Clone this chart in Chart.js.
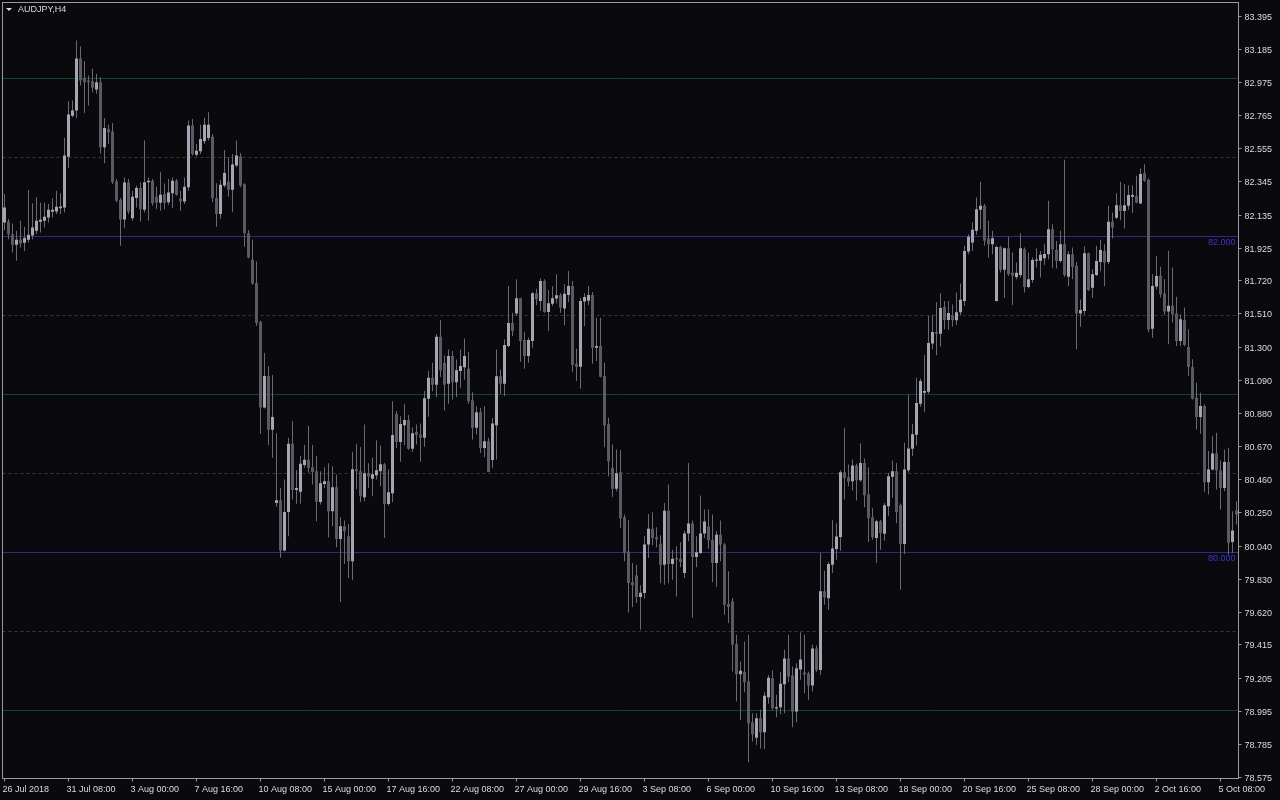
<!DOCTYPE html>
<html>
<head>
<meta charset="utf-8">
<title>AUDJPY,H4</title>
<script src="https://cdn.jsdelivr.net/npm/chart.js@4.4.1/dist/chart.umd.min.js"></script>
<style>
  html, body { margin: 0; padding: 0; background: #0a0a0e; }
  #wrap { position: relative; width: 1280px; height: 800px; }
</style>
</head>
<body>
<div id="wrap"><canvas id="chart" width="1280" height="800"></canvas></div>
<script>
const SYMBOL = "AUDJPY,H4";

// one label every 16 bars (H4)
const timeLabels = [
  "26 Jul 2018", "31 Jul 08:00", "3 Aug 00:00", "7 Aug 16:00", "10 Aug 08:00",
  "15 Aug 00:00", "17 Aug 16:00", "22 Aug 08:00", "27 Aug 00:00", "29 Aug 16:00",
  "3 Sep 08:00", "6 Sep 00:00", "10 Sep 16:00", "13 Sep 08:00", "18 Sep 00:00",
  "20 Sep 16:00", "25 Sep 08:00", "28 Sep 00:00", "2 Oct 16:00", "5 Oct 08:00",
];

const priceTicks = [
  83.395, 83.185, 82.975, 82.765, 82.555, 82.345, 82.135, 81.925, 81.720, 81.510,
  81.300, 81.090, 80.880, 80.670, 80.460, 80.250, 80.040, 79.830, 79.620, 79.415,
  79.205, 78.995, 78.785, 78.575,
];

const greenLevels = [83, 81, 79];
const blueLevels = [82, 80];
const dashedLevels = [82.5, 81.5, 80.5, 79.5];

const open = [
  82.089, 82.095, 82.015, 81.948, 81.981, 81.960, 81.979, 82.007, 82.036, 82.093,
  82.100, 82.121, 82.157, 82.159, 82.178, 82.184, 82.505, 82.765, 82.797, 83.127,
  83.004, 82.987, 82.983, 82.930, 82.976, 82.565, 82.679, 82.664, 82.349, 82.233,
  82.108, 82.341, 82.115, 82.243, 82.307, 82.169, 82.343, 82.353, 82.252, 82.214,
  82.269, 82.216, 82.273, 82.353, 82.239, 82.222, 82.311, 82.702, 82.518, 82.539,
  82.603, 82.624, 82.632, 82.244, 82.142, 82.322, 82.347, 82.296, 82.449, 82.506,
  82.330, 82.020, 81.853, 81.705, 81.460, 80.917, 81.117, 80.777, 80.314, 80.331,
  80.012, 80.257, 80.688, 80.395, 80.384, 80.553, 80.587, 80.541, 80.515, 80.320,
  80.434, 80.451, 80.261, 80.413, 80.086, 80.166, 80.103, 79.944, 80.527, 80.515,
  80.350, 80.502, 80.466, 80.489, 80.515, 80.559, 80.307, 80.375, 80.876, 80.700,
  80.806, 80.838, 80.656, 80.762, 80.747, 80.726, 80.973, 81.106, 81.061, 81.366,
  81.199, 81.068, 81.243, 81.078, 81.148, 81.173, 81.163, 80.964, 80.789, 80.888,
  80.662, 80.704, 80.586, 80.806, 81.116, 81.068, 81.307, 81.452, 81.512, 81.609,
  81.345, 81.243, 81.339, 81.641, 81.592, 81.719, 81.522, 81.575, 81.607, 81.628,
  81.544, 81.630, 81.687, 81.195, 81.176, 81.588, 81.594, 81.630, 81.296, 81.307,
  81.117, 80.812, 80.536, 80.403, 80.508, 80.223, 80.007, 79.811, 79.855, 79.718,
  79.743, 80.050, 80.151, 80.096, 80.056, 79.923, 80.265, 79.927, 79.965, 79.961,
  79.870, 80.120, 80.183, 79.972, 79.997, 80.120, 80.164, 80.081, 79.934, 80.113,
  80.050, 79.674, 79.691, 79.420, 79.230, 79.246, 79.183, 78.925, 78.828, 78.951,
  78.862, 79.084, 79.204, 79.012, 79.020, 79.166, 79.329, 79.221, 78.993, 79.259,
  79.240, 79.234, 79.158, 79.392, 79.257, 79.754, 79.711, 79.923, 80.022, 80.098,
  80.508, 80.477, 80.451, 80.551, 80.458, 80.566, 80.367, 80.223, 80.092, 80.198,
  80.118, 80.293, 80.479, 80.515, 80.299, 80.054, 80.521, 80.656, 80.745, 80.942,
  81.011, 81.018, 81.322, 81.396, 81.385, 81.554, 81.472, 81.500, 81.470, 81.520,
  81.592, 81.905, 81.962, 82.036, 82.169, 82.194, 81.987, 81.951, 81.592, 81.934,
  81.789, 81.926, 81.770, 81.744, 81.757, 81.920, 81.681, 81.725, 81.846, 81.846,
  81.863, 81.888, 82.046, 81.915, 81.845, 81.951, 81.746, 81.888, 81.814, 81.512,
  81.528, 81.894, 81.676, 81.757, 81.839, 81.909, 81.839, 82.093, 82.118, 82.198,
  82.162, 82.194, 82.251, 82.257, 82.209, 82.401, 82.359, 81.416, 81.683, 81.751,
  81.639, 81.525, 81.561, 81.512, 81.339, 81.470, 81.301, 81.174, 80.980, 80.857,
  80.927, 80.445, 80.526, 80.627, 80.519, 80.409, 80.572, 80.067, 80.266,
];

const high = [
  82.269, 82.110, 82.083, 82.036, 82.100, 82.062, 82.294, 82.210, 82.248, 82.214,
  82.214, 82.205, 82.241, 82.290, 82.273, 82.624, 82.856, 82.860, 83.241, 83.203,
  83.110, 83.019, 83.061, 83.029, 83.008, 82.750, 82.708, 82.719, 82.364, 82.243,
  82.374, 82.364, 82.290, 82.322, 82.343, 82.607, 82.374, 82.364, 82.315, 82.410,
  82.336, 82.364, 82.374, 82.364, 82.290, 82.374, 82.734, 82.744, 82.586, 82.708,
  82.751, 82.786, 82.649, 82.337, 82.358, 82.548, 82.501, 82.522, 82.607, 82.527,
  82.337, 82.041, 81.979, 81.842, 81.466, 81.263, 81.179, 81.124, 80.754, 80.409,
  80.462, 80.726, 80.832, 80.522, 80.610, 80.680, 80.800, 80.680, 80.610, 80.515,
  80.540, 80.565, 80.546, 80.493, 80.223, 80.202, 80.181, 80.637, 80.688, 80.667,
  80.810, 80.565, 80.599, 80.711, 80.677, 80.567, 80.525, 80.958, 80.895, 80.863,
  80.939, 80.870, 80.793, 80.810, 80.817, 81.022, 81.148, 81.201, 81.381, 81.471,
  81.247, 81.285, 81.275, 81.222, 81.285, 81.355, 81.271, 81.015, 80.926, 80.916,
  80.926, 80.726, 80.852, 81.285, 81.159, 81.349, 81.687, 81.518, 81.729, 81.613,
  81.395, 81.359, 81.649, 81.670, 81.734, 81.729, 81.662, 81.687, 81.761, 81.641,
  81.698, 81.782, 81.719, 81.290, 81.613, 81.641, 81.687, 81.649, 81.486, 81.486,
  81.201, 80.853, 80.684, 80.652, 80.648, 80.240, 80.204, 79.933, 79.923, 79.792,
  80.103, 80.244, 80.255, 80.160, 80.109, 80.314, 80.430, 80.018, 80.039, 80.065,
  80.138, 80.567, 80.202, 80.103, 80.360, 80.272, 80.272, 80.240, 80.134, 80.202,
  80.060, 79.881, 79.712, 79.479, 79.310, 79.437, 79.479, 78.982, 78.982, 79.004,
  79.115, 79.225, 79.253, 79.099, 79.242, 79.384, 79.479, 79.278, 79.299, 79.496,
  79.479, 79.246, 79.416, 79.411, 79.997, 79.885, 79.940, 80.204, 80.185, 80.521,
  80.789, 80.557, 80.589, 80.561, 80.692, 80.595, 80.540, 80.282, 80.208, 80.208,
  80.314, 80.504, 80.582, 80.566, 80.310, 80.694, 80.997, 80.815, 81.106, 81.102,
  81.250, 81.497, 81.504, 81.586, 81.641, 81.592, 81.592, 81.570, 81.645, 81.702,
  81.941, 82.015, 82.089, 82.247, 82.346, 82.205, 82.099, 82.036, 81.941, 81.941,
  81.930, 81.998, 81.899, 81.835, 82.021, 81.930, 81.899, 81.867, 81.926, 81.909,
  81.951, 82.226, 82.078, 81.972, 82.036, 82.486, 81.909, 81.930, 81.839, 81.602,
  81.936, 81.898, 81.793, 81.941, 81.979, 81.951, 82.194, 82.152, 82.274, 82.346,
  82.331, 82.325, 82.325, 82.384, 82.431, 82.458, 82.367, 81.761, 81.877, 81.808,
  81.730, 81.910, 81.804, 81.618, 81.508, 81.550, 81.413, 81.223, 81.075, 81.011,
  80.937, 80.642, 80.737, 80.758, 80.583, 80.652, 80.663, 80.261, 80.325,
];

const low = [
  82.040, 81.983, 81.899, 81.846, 81.931, 81.909, 81.962, 81.983, 82.015, 82.026,
  82.057, 82.089, 82.121, 82.142, 82.142, 82.152, 82.433, 82.755, 82.750, 82.955,
  82.782, 82.829, 82.913, 82.903, 82.526, 82.463, 82.586, 82.332, 82.216, 81.941,
  82.053, 82.142, 82.100, 82.184, 82.095, 82.152, 82.100, 82.195, 82.174, 82.163,
  82.174, 82.201, 82.180, 82.258, 82.163, 82.205, 82.290, 82.512, 82.508, 82.522,
  82.586, 82.607, 82.216, 82.062, 82.110, 82.311, 82.252, 82.153, 82.438, 82.311,
  81.935, 81.863, 81.694, 81.434, 80.752, 80.912, 80.680, 80.600, 80.289, 79.966,
  80.008, 80.103, 80.336, 80.308, 80.308, 80.536, 80.505, 80.431, 80.198, 80.303,
  80.409, 80.096, 80.166, 80.033, 79.686, 79.927, 79.838, 79.824, 80.400, 80.320,
  80.324, 80.409, 80.356, 80.462, 80.419, 80.092, 80.297, 80.320, 80.662, 80.574,
  80.679, 80.650, 80.637, 80.684, 80.574, 80.669, 80.859, 81.021, 80.983, 81.110,
  80.899, 80.941, 80.968, 80.983, 81.042, 81.093, 80.941, 80.715, 80.747, 80.630,
  80.603, 80.508, 80.535, 80.588, 81.004, 80.990, 81.300, 81.370, 81.497, 81.207,
  81.163, 81.201, 81.296, 81.565, 81.529, 81.518, 81.402, 81.560, 81.577, 81.518,
  81.438, 81.586, 81.142, 81.085, 81.036, 81.434, 81.565, 81.195, 81.212, 81.108,
  80.667, 80.483, 80.352, 80.388, 80.155, 79.944, 79.621, 79.655, 79.680, 79.511,
  79.707, 79.965, 80.046, 80.033, 79.807, 79.796, 79.807, 79.828, 79.722, 79.906,
  79.838, 80.071, 79.589, 79.906, 79.991, 80.092, 80.024, 79.813, 79.781, 79.944,
  79.606, 79.553, 79.247, 79.057, 78.940, 79.115, 78.672, 78.803, 78.782, 78.760,
  78.756, 79.042, 79.004, 78.957, 78.976, 78.982, 79.179, 78.894, 78.925, 79.194,
  79.109, 79.067, 79.120, 79.246, 79.225, 79.669, 79.637, 79.870, 79.954, 80.011,
  80.335, 80.420, 80.392, 80.329, 80.447, 80.287, 80.067, 80.080, 79.934, 80.018,
  80.075, 80.230, 80.346, 80.187, 79.765, 79.991, 80.504, 80.610, 80.677, 80.923,
  80.891, 81.005, 81.286, 81.248, 81.303, 81.413, 81.409, 81.430, 81.440, 81.500,
  81.560, 81.888, 81.909, 82.011, 82.046, 81.941, 81.867, 81.888, 81.588, 81.772,
  81.613, 81.751, 81.567, 81.730, 81.740, 81.645, 81.672, 81.708, 81.803, 81.740,
  81.820, 81.856, 81.799, 81.797, 81.835, 81.746, 81.687, 81.729, 81.286, 81.429,
  81.507, 81.655, 81.613, 81.750, 81.782, 81.687, 81.824, 81.987, 82.110, 82.105,
  82.050, 82.169, 82.148, 82.211, 82.205, 82.346, 81.395, 81.359, 81.666, 81.614,
  81.504, 81.318, 81.455, 81.307, 81.307, 81.305, 81.117, 80.969, 80.779, 80.752,
  80.384, 80.367, 80.519, 80.399, 80.272, 80.388, 79.987, 79.997, 80.177,
];

const close = [
  82.184, 82.015, 81.948, 81.979, 81.956, 81.990, 82.011, 82.057, 82.100, 82.106,
  82.125, 82.169, 82.169, 82.188, 82.190, 82.512, 82.772, 82.797, 83.127, 82.987,
  82.976, 82.976, 82.941, 82.976, 82.565, 82.687, 82.660, 82.343, 82.226, 82.108,
  82.341, 82.159, 82.252, 82.307, 82.172, 82.343, 82.353, 82.210, 82.214, 82.265,
  82.214, 82.279, 82.353, 82.265, 82.222, 82.315, 82.702, 82.522, 82.543, 82.617,
  82.708, 82.708, 82.244, 82.142, 82.328, 82.402, 82.296, 82.455, 82.512, 82.322,
  82.020, 81.867, 81.703, 81.453, 80.917, 81.117, 80.777, 80.857, 80.331, 80.012,
  80.257, 80.688, 80.395, 80.409, 80.562, 80.587, 80.536, 80.509, 80.321, 80.438,
  80.451, 80.261, 80.413, 80.086, 80.166, 80.134, 79.944, 80.527, 80.515, 80.356,
  80.502, 80.481, 80.496, 80.521, 80.559, 80.307, 80.381, 80.743, 80.700, 80.813,
  80.838, 80.656, 80.755, 80.743, 80.726, 80.977, 81.106, 81.061, 81.366, 81.154,
  81.061, 81.243, 81.078, 81.154, 81.180, 81.243, 80.958, 80.789, 80.888, 80.662,
  80.704, 80.510, 80.816, 81.116, 81.068, 81.313, 81.452, 81.402, 81.609, 81.338,
  81.243, 81.345, 81.641, 81.603, 81.719, 81.522, 81.577, 81.609, 81.628, 81.550,
  81.637, 81.687, 81.186, 81.176, 81.592, 81.617, 81.630, 81.296, 81.307, 81.113,
  80.806, 80.578, 80.403, 80.502, 80.217, 79.997, 79.807, 79.792, 79.718, 79.745,
  80.050, 80.151, 80.092, 80.084, 79.923, 80.265, 79.927, 79.961, 79.955, 79.940,
  80.120, 80.183, 79.972, 80.001, 80.120, 80.196, 80.077, 79.934, 80.113, 80.050,
  79.669, 79.655, 79.416, 79.230, 79.251, 79.179, 78.919, 78.849, 78.951, 78.862,
  79.094, 79.208, 79.014, 79.020, 79.170, 79.329, 79.215, 78.993, 79.268, 79.323,
  79.228, 79.158, 79.392, 79.257, 79.754, 79.716, 79.927, 80.026, 80.102, 80.508,
  80.472, 80.447, 80.551, 80.458, 80.566, 80.363, 80.219, 80.096, 80.198, 80.124,
  80.299, 80.483, 80.515, 80.257, 80.054, 80.525, 80.658, 80.749, 80.946, 81.085,
  81.022, 81.326, 81.396, 81.385, 81.548, 81.472, 81.516, 81.470, 81.520, 81.599,
  81.909, 81.998, 82.042, 82.173, 82.194, 81.973, 81.951, 81.989, 81.934, 81.789,
  81.926, 81.761, 81.751, 81.770, 81.926, 81.681, 81.730, 81.852, 81.854, 81.884,
  81.890, 82.046, 81.920, 81.845, 81.951, 81.757, 81.888, 81.807, 81.512, 81.535,
  81.894, 81.662, 81.761, 81.845, 81.915, 81.835, 82.093, 82.057, 82.198, 82.162,
  82.198, 82.262, 82.262, 82.215, 82.395, 82.353, 81.412, 81.687, 81.750, 81.635,
  81.525, 81.561, 81.508, 81.339, 81.476, 81.314, 81.174, 80.973, 80.857, 80.927,
  80.445, 80.526, 80.627, 80.519, 80.409, 80.572, 80.061, 80.139, 80.240,
];

const COLORS = {
  bg: "#0a0a0e",
  frame: "#9a9a9e",
  text: "#dcdcdc",
  bull: "#a6a6b2",
  bear: "#5a5a60",
  wick: "#6a6a70",
  green: "#0f4430",
  blue: "#2e2a8c",
  blueText: "#3f35d0",
  dashed: "#3a3a22",
};

const FONT = { family: "'Liberation Sans', Arial, sans-serif", size: 9 };

const mt4Plugin = {
  id: "mt4",
  beforeDraw(chart) {
    const { ctx, width, height } = chart;
    ctx.save();
    ctx.fillStyle = COLORS.bg;
    ctx.fillRect(0, 0, width, height);
    ctx.restore();
  },
  beforeDatasetsDraw(chart) {
    const { ctx, chartArea: area, scales } = chart;
    const y = scales.y;
    const hline = (price, color, dash) => {
      const py = Math.floor(y.getPixelForValue(price) + 0.01) + 0.5;
      ctx.strokeStyle = color;
      ctx.setLineDash(dash);
      ctx.beginPath();
      ctx.moveTo(area.left, py);
      ctx.lineTo(area.right, py);
      ctx.stroke();
    };
    ctx.save();
    ctx.lineWidth = 1;
    dashedLevels.forEach((p) => hline(p, COLORS.dashed, [3, 3]));
    greenLevels.forEach((p) => hline(p, COLORS.green, []));
    blueLevels.forEach((p) => hline(p, COLORS.blue, []));

    ctx.font = `${FONT.size}px ${FONT.family}`;
    ctx.fillStyle = COLORS.blueText;
    ctx.textAlign = "right";
    ctx.textBaseline = "top";
    blueLevels.forEach((p) => {
      const py = Math.floor(y.getPixelForValue(p) + 0.01);
      ctx.fillText(p.toFixed(3), area.right - 3, py + 2);
    });
    ctx.restore();
  },
  afterDraw(chart) {
    const { ctx, chartArea: area } = chart;
    ctx.save();
    ctx.strokeStyle = COLORS.frame;
    ctx.lineWidth = 1;
    ctx.strokeRect(area.left, area.top, area.right - area.left, area.bottom - area.top);

    // symbol caption with the little drop-down arrow
    ctx.fillStyle = COLORS.text;
    ctx.beginPath();
    ctx.moveTo(6, 8);
    ctx.lineTo(12, 8);
    ctx.lineTo(9, 11);
    ctx.closePath();
    ctx.fill();
    ctx.font = `${FONT.size}px ${FONT.family}`;
    ctx.textBaseline = "middle";
    ctx.fillText(SYMBOL, 18, 10);
    ctx.restore();
  },
};

new Chart(document.getElementById("chart"), {
  type: "bar",
  data: {
    labels: close.map((_, i) => i),
    datasets: [
      {
        label: "body",
        data: open.map((o, i) => [o, close[i]]),
        backgroundColor: (c) => (close[c.dataIndex] >= open[c.dataIndex] ? COLORS.bull : COLORS.bear),
        barThickness: 3,
        minBarLength: 1,
        borderWidth: 0,
        inflateAmount: 0,
        grouped: false,
        order: 1,
      },
      {
        label: "wick",
        data: low.map((l, i) => [l, high[i]]),
        backgroundColor: COLORS.wick,
        barThickness: 1,
        borderWidth: 0,
        inflateAmount: 0,
        grouped: false,
        order: 2,
      },
    ],
  },
  options: {
    responsive: false,
    animation: false,
    devicePixelRatio: 1,
    events: [],
    layout: { padding: { left: 2.5, top: 2.5, right: 0, bottom: 0 } },
    plugins: { legend: { display: false }, tooltip: { enabled: false } },
    scales: {
      x: {
        type: "category",
        offset: true,
        grid: { display: true, drawOnChartArea: false, drawTicks: true, tickLength: 3, color: COLORS.frame, offset: false },
        border: { display: false },
        ticks: {
          autoSkip: false,
          maxRotation: 0,
          minRotation: 0,
          align: "start",
          padding: 3,
          labelOffset: -2,
          color: COLORS.text,
          font: FONT,
          callback: (v) => timeLabels[v / 16] ?? "",
        },
        afterBuildTicks: (scale) => {
          scale.ticks = scale.ticks.filter((t) => t.value % 16 === 0);
        },
        afterFit: (scale) => {
          scale.height = 21.5;
          scale.paddingLeft = 0;
          scale.paddingRight = 0;
        },
      },
      y: {
        position: "right",
        min: 78.5696,
        max: 83.481,
        grid: { drawOnChartArea: false, drawTicks: true, tickLength: 3, color: COLORS.frame },
        border: { display: false },
        ticks: {
          autoSkip: false,
          padding: 3,
          labelOffset: 1,
          color: COLORS.text,
          font: FONT,
          callback: (v) => v.toFixed(3),
        },
        afterBuildTicks: (scale) => {
          scale.ticks = priceTicks.map((value) => ({ value }));
        },
        afterFit: (scale) => {
          scale.width = 41.5;
          scale.paddingTop = 0;
          scale.paddingBottom = 0;
        },
      },
    },
  },
  plugins: [mt4Plugin],
});
</script>
</body>
</html>
